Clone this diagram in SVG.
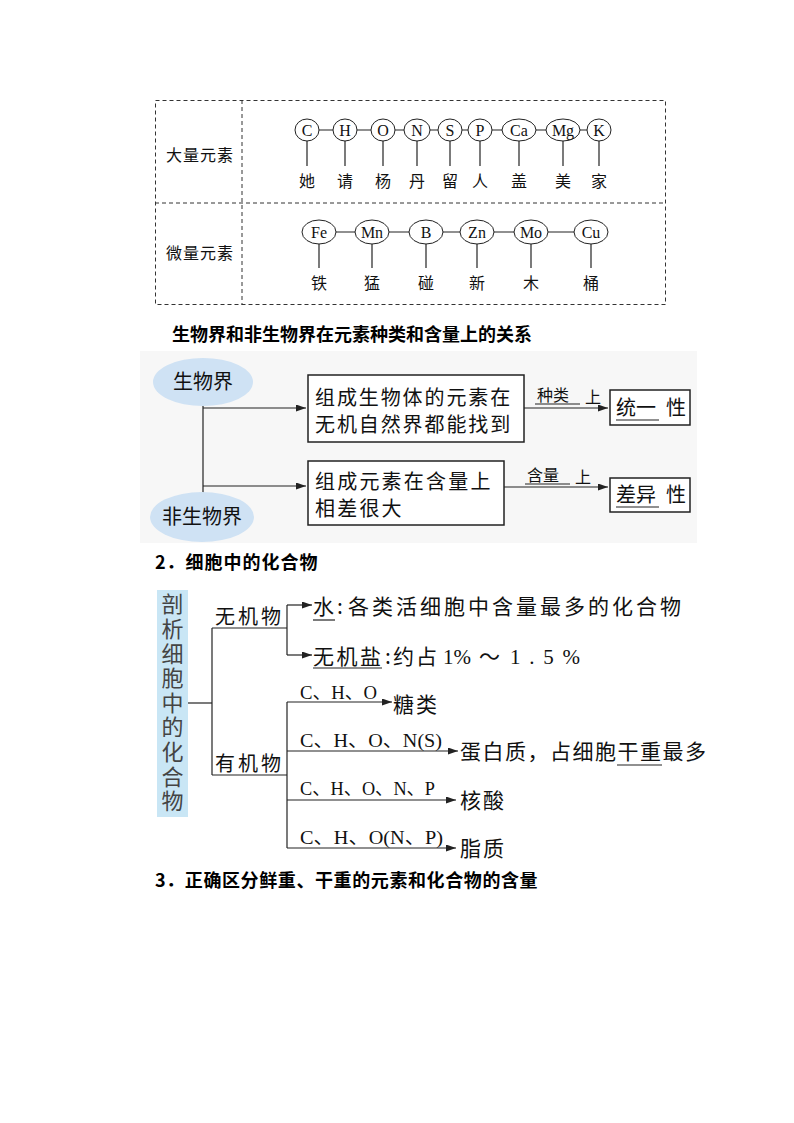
<svg xmlns="http://www.w3.org/2000/svg" width="794" height="1123" viewBox="0 0 794 1123">
<style>
.cjk{font-family:"Noto Sans CJK SC","Liberation Sans",sans-serif;fill:#111}
.ser{font-family:"Liberation Serif","Noto Sans CJK SC",serif;fill:#111}
.ln{stroke:#222;stroke-width:1.2;fill:none}
.el{fill:#fff;stroke:#222;stroke-width:1}
.bx{fill:#fff;stroke:#222;stroke-width:1.5}
.h{font-family:"Noto Sans CJK SC","Liberation Sans",sans-serif;font-weight:bold;font-size:18px;fill:#000}
</style>
<defs>
<marker id="ar" markerUnits="userSpaceOnUse" markerWidth="10" markerHeight="7" refX="10" refY="3.5" orient="auto">
<path d="M0,0 L10,3.5 L0,7 z" fill="#222"/>
</marker>
</defs>
<rect width="794" height="1123" fill="#fff"/>

<!-- Table -->
<g id="table">
<rect x="155.5" y="100.5" width="510" height="204" fill="none" stroke="#333" stroke-width="1" stroke-dasharray="4,3"/>
<line x1="155" y1="203" x2="666" y2="203" stroke="#333" stroke-dasharray="4,3"/>
<line x1="242" y1="100" x2="242" y2="305" stroke="#333" stroke-dasharray="4,3"/>
<text class="cjk" x="200" y="161" font-size="16" text-anchor="middle" letter-spacing="1">大量元素</text>
<text class="cjk" x="200" y="259" font-size="16" text-anchor="middle" letter-spacing="1">微量元素</text>
</g>

<g id="connectors">
<line class="ln" x1="307" y1="130" x2="599" y2="130" stroke-width="1"/>
<g class="ln" stroke-width="1">
<line x1="307" y1="141" x2="307" y2="166"/><line x1="345" y1="141" x2="345" y2="166"/>
<line x1="383" y1="141" x2="383" y2="166"/><line x1="417" y1="141" x2="417" y2="166"/>
<line x1="450" y1="141" x2="450" y2="166"/><line x1="480" y1="141" x2="480" y2="166"/>
<line x1="519" y1="141" x2="519" y2="166"/><line x1="563" y1="141" x2="563" y2="166"/>
<line x1="599" y1="141" x2="599" y2="166"/>
</g>
<line class="ln" x1="319" y1="232" x2="591" y2="232" stroke-width="1"/>
<g class="ln" stroke-width="1">
<line x1="319" y1="244" x2="319" y2="268"/><line x1="372" y1="244" x2="372" y2="268"/>
<line x1="426" y1="244" x2="426" y2="268"/><line x1="477" y1="244" x2="477" y2="268"/>
<line x1="531" y1="244" x2="531" y2="268"/><line x1="591" y1="244" x2="591" y2="268"/>
</g>
</g>

<g id="macro">
<g id="n-C"><ellipse class="el" cx="307" cy="130" rx="12" ry="11"/><text class="ser" x="307" y="135.5" font-size="16" text-anchor="middle">C</text></g>
<g id="n-H"><ellipse class="el" cx="345" cy="130" rx="12" ry="11"/><text class="ser" x="345" y="135.5" font-size="16" text-anchor="middle">H</text></g>
<g id="n-O"><ellipse class="el" cx="383" cy="130" rx="12" ry="11"/><text class="ser" x="383" y="135.5" font-size="16" text-anchor="middle">O</text></g>
<g id="n-N"><ellipse class="el" cx="417" cy="130" rx="13" ry="11"/><text class="ser" x="417" y="135.5" font-size="16" text-anchor="middle">N</text></g>
<g id="n-S"><ellipse class="el" cx="450" cy="130" rx="12" ry="11"/><text class="ser" x="450" y="135.5" font-size="16" text-anchor="middle">S</text></g>
<g id="n-P"><ellipse class="el" cx="480" cy="130" rx="12" ry="11"/><text class="ser" x="480" y="135.5" font-size="16" text-anchor="middle">P</text></g>
<g id="n-Ca"><ellipse class="el" cx="519" cy="130" rx="17" ry="11"/><text class="ser" x="519" y="135.5" font-size="16" text-anchor="middle">Ca</text></g>
<g id="n-Mg"><ellipse class="el" cx="563" cy="130" rx="17" ry="11"/><text class="ser" x="563" y="135.5" font-size="16" text-anchor="middle">Mg</text></g>
<g id="n-K"><ellipse class="el" cx="599" cy="130" rx="12" ry="11"/><text class="ser" x="599" y="135.5" font-size="16" text-anchor="middle">K</text></g>
<g class="cjk" font-size="16" text-anchor="middle">
<text x="307" y="187">她</text><text x="345" y="187">请</text><text x="383" y="187">杨</text>
<text x="417" y="187">丹</text><text x="450" y="187">留</text><text x="480" y="187">人</text>
<text x="519" y="187">盖</text><text x="563" y="187">美</text><text x="599" y="187">家</text>
</g>
</g>

<g id="micro">
<g id="n-Fe"><ellipse class="el" cx="319" cy="232" rx="17" ry="12"/><text class="ser" x="319" y="237.5" font-size="16" text-anchor="middle">Fe</text></g>
<g id="n-Mn"><ellipse class="el" cx="372" cy="232" rx="17" ry="12"/><text class="ser" x="372" y="237.5" font-size="16" text-anchor="middle">Mn</text></g>
<g id="n-B"><ellipse class="el" cx="426" cy="232" rx="17" ry="12"/><text class="ser" x="426" y="237.5" font-size="16" text-anchor="middle">B</text></g>
<g id="n-Zn"><ellipse class="el" cx="477" cy="232" rx="17" ry="12"/><text class="ser" x="477" y="237.5" font-size="16" text-anchor="middle">Zn</text></g>
<g id="n-Mo"><ellipse class="el" cx="531" cy="232" rx="17" ry="12"/><text class="ser" x="531" y="237.5" font-size="16" text-anchor="middle">Mo</text></g>
<g id="n-Cu"><ellipse class="el" cx="591" cy="232" rx="17" ry="12"/><text class="ser" x="591" y="237.5" font-size="16" text-anchor="middle">Cu</text></g>
<g class="cjk" font-size="16" text-anchor="middle">
<text x="319" y="289">铁</text><text x="372" y="289">猛</text><text x="426" y="289">碰</text>
<text x="477" y="289">新</text><text x="531" y="289">木</text><text x="591" y="289">桶</text>
</g>
</g>

<text class="h" x="172" y="341">生物界和非生物界在元素种类和含量上的关系</text>

<!-- Bio panel -->
<rect x="140" y="351" width="557" height="192" fill="#f7f7f7"/>
<g id="bio-connectors">
<line class="ln" x1="203" y1="406" x2="203" y2="493"/>
<line class="ln" x1="203" y1="408" x2="306" y2="408" marker-end="url(#ar)"/>
<line class="ln" x1="203" y1="486" x2="306" y2="486" marker-end="url(#ar)"/>
<line class="ln" x1="524" y1="408" x2="608" y2="408" marker-end="url(#ar)"/>
<line class="ln" x1="504" y1="487" x2="608" y2="487" marker-end="url(#ar)"/>
<text class="cjk" x="537" y="401" font-size="16">种类</text>
<line class="ln" x1="535" y1="404" x2="580" y2="404" stroke-width="1"/>
<text class="cjk" x="585" y="403" font-size="16">上</text>
<text class="cjk" x="527" y="481" font-size="16">含量</text>
<line class="ln" x1="525" y1="484" x2="570" y2="484" stroke-width="1"/>
<text class="cjk" x="575" y="483" font-size="16">上</text>
</g>
<g id="bio"><ellipse cx="203" cy="382" rx="50" ry="24" fill="#cfe2f4"/><text class="cjk" x="203" y="389" font-size="20" text-anchor="middle">生物界</text></g>
<g id="nonbio"><ellipse cx="202" cy="517" rx="52" ry="25" fill="#cfe2f4"/><text class="cjk" x="202" y="524" font-size="20" text-anchor="middle">非生物界</text></g>
<g id="box1"><rect class="bx" x="308" y="375" width="216" height="67"/>
<text class="cjk" x="315" y="405" font-size="20" letter-spacing="1.9">组成生物体的元素在</text>
<text class="cjk" x="315" y="432" font-size="20" letter-spacing="1.9">无机自然界都能找到</text></g>
<g id="box2"><rect class="bx" x="308" y="461" width="196" height="64"/>
<text class="cjk" x="315" y="489" font-size="20" letter-spacing="2.2">组成元素在含量上</text>
<text class="cjk" x="315" y="516" font-size="20" letter-spacing="2.2">相差很大</text></g>
<g id="box3"><rect class="bx" x="610" y="390" width="80" height="35"/>
<text class="cjk" x="616" y="415" font-size="20">统一</text>
<line class="ln" x1="616" y1="420" x2="659" y2="420" stroke-width="1"/>
<text class="cjk" x="666" y="415" font-size="20">性</text></g>
<g id="box4"><rect class="bx" x="610" y="478" width="80" height="34"/>
<text class="cjk" x="616" y="502" font-size="20">差异</text>
<line class="ln" x1="616" y1="507" x2="659" y2="507" stroke-width="1"/>
<text class="cjk" x="666" y="502" font-size="20">性</text></g>

<text class="h" x="155" y="569" letter-spacing="1">2．细胞中的化合物</text>

<!-- Compounds -->
<g id="root"><rect x="157" y="590" width="31" height="227" fill="#c9e6f5"/>
<text x="172.5" y="593" font-family="Noto Sans CJK SC, sans-serif" font-size="22" fill="#444" writing-mode="tb" letter-spacing="2.6">剖析细胞中的化合物</text>
</g>
<g id="tree-connectors">
<line class="ln" x1="188" y1="703" x2="212" y2="703"/>
<line class="ln" x1="212" y1="628" x2="212" y2="775"/>
<line class="ln" x1="212" y1="628" x2="287" y2="628"/>
<line class="ln" x1="212" y1="775" x2="287" y2="775"/>
<line class="ln" x1="287" y1="605" x2="287" y2="655"/>
<line class="ln" x1="287" y1="605" x2="312" y2="605" marker-end="url(#ar)"/>
<line class="ln" x1="287" y1="655" x2="312" y2="655" marker-end="url(#ar)"/>
<line class="ln" x1="287" y1="702" x2="287" y2="848"/>
<line class="ln" x1="287" y1="702" x2="392" y2="702" marker-end="url(#ar)"/>
<line class="ln" x1="287" y1="751" x2="458" y2="751" marker-end="url(#ar)"/>
<line class="ln" x1="287" y1="800" x2="456" y2="800" marker-end="url(#ar)"/>
<line class="ln" x1="287" y1="848" x2="456" y2="848" marker-end="url(#ar)"/>
<text class="ser" x="300" y="699" font-size="19" textLength="77" lengthAdjust="spacingAndGlyphs">C、H、O</text>
<text class="ser" x="300" y="747" font-size="19" textLength="142" lengthAdjust="spacingAndGlyphs">C、H、O、N(S)</text>
<text class="ser" x="300" y="795" font-size="19" textLength="135" lengthAdjust="spacingAndGlyphs">C、H、O、N、P</text>
<text class="ser" x="300" y="844" font-size="19" textLength="143" lengthAdjust="spacingAndGlyphs">C、H、O(N、P)</text>
</g>
<g id="inorganic"><text class="cjk" x="215" y="624" font-size="20" letter-spacing="3">无机物</text></g>
<g id="organic"><text class="cjk" x="215" y="771" font-size="20" letter-spacing="3">有机物</text></g>
<g id="water">
<text class="cjk" x="313" y="614" font-size="21">水</text>
<line class="ln" x1="313" y1="620" x2="335" y2="620" stroke-width="1"/>
<text class="cjk" x="337" y="614" font-size="21">:</text>
<text class="cjk" x="348" y="614" font-size="21" letter-spacing="3">各类活细胞中含量最多的化合物</text>
</g>
<g id="salt">
<text class="cjk" x="313" y="664" font-size="21" letter-spacing="2.5">无机盐</text>
<line class="ln" x1="313" y1="668" x2="382" y2="668" stroke-width="1"/>
<text class="cjk" x="385" y="664" font-size="21">:</text>
<text class="cjk" x="393" y="664" font-size="21" letter-spacing="2">约占</text>
<text class="ser" x="443" y="664" font-size="21">1%</text>
<text class="ser" x="479" y="664" font-size="21">～</text>
<text class="ser" x="510" y="664" font-size="21" textLength="70" lengthAdjust="spacing">1.5%</text>
</g>
<g id="sugar"><text class="cjk" x="393" y="712" font-size="21" letter-spacing="2">糖类</text></g>
<g id="protein"><text class="cjk" x="460" y="759" font-size="21" letter-spacing="1.5">蛋白质，占细胞干重最多</text>
<line class="ln" x1="617" y1="765" x2="662" y2="765" stroke-width="1"/></g>
<g id="nucleic"><text class="cjk" x="460" y="808" font-size="21" letter-spacing="2">核酸</text></g>
<g id="lipid"><text class="cjk" x="460" y="856" font-size="21" letter-spacing="2">脂质</text></g>

<text class="h" x="155" y="887" letter-spacing="0.6">3．正确区分鲜重、干重的元素和化合物的含量</text>
</svg>
